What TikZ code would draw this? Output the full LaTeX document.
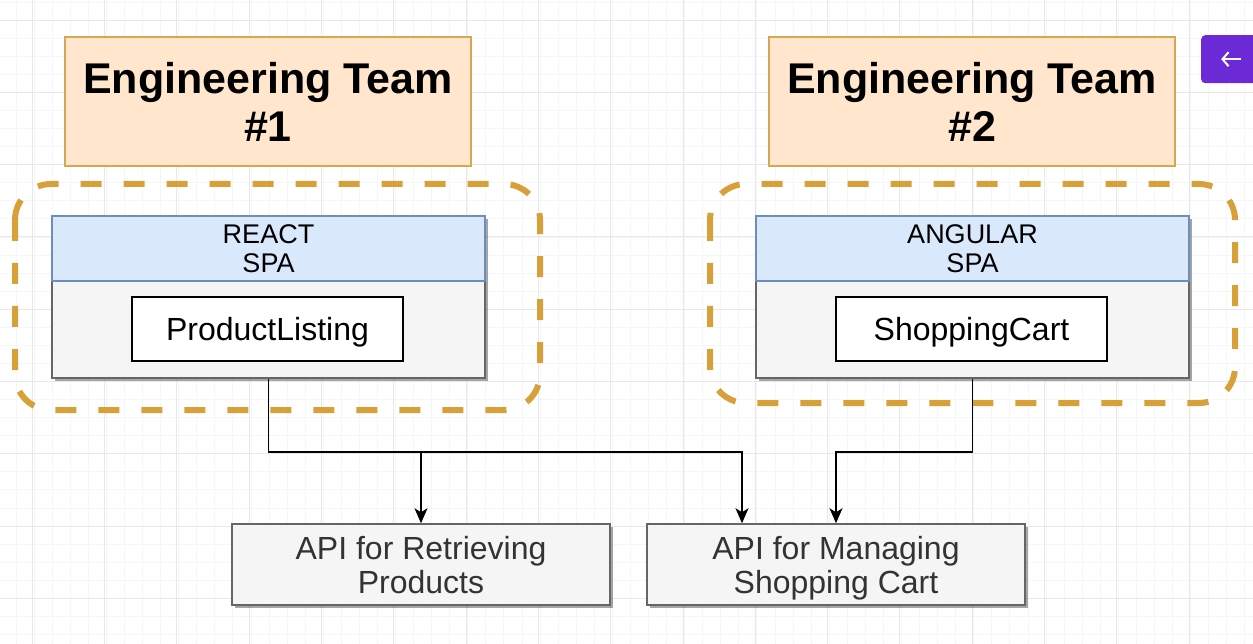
\documentclass[tikz,border=0pt]{standalone}
\usepackage{fontspec}
\setmainfont{Liberation Sans}
\usetikzlibrary{arrows.meta,shadows}
\definecolor{teamfill}{RGB}{255,230,204}
\definecolor{teamline}{RGB}{214,166,80}
\definecolor{dashline}{RGB}{216,160,56}
\definecolor{headfill}{RGB}{218,232,252}
\definecolor{headline}{RGB}{108,142,191}
\definecolor{bodyfill}{RGB}{245,245,245}
\definecolor{bodyline}{RGB}{102,102,102}
\definecolor{gridminor}{RGB}{246,246,246}
\definecolor{gridmajor}{RGB}{232,232,232}
\definecolor{purplebtn}{RGB}{108,42,214}
\tikzset{
  team/.style={draw=teamline,fill=teamfill,line width=1.5pt,minimum width=406pt,
    minimum height=129pt,inner sep=0pt,align=center,text depth=0pt,
    font=\fontsize{43}{48}\selectfont\bfseries},
  group/.style={draw=dashline,line width=6pt,dash pattern=on 21pt off 22pt,rounded corners=36pt},
  shade/.style={drop shadow={shadow xshift=3pt,shadow yshift=-3pt,fill=black,opacity=.35}},
  appbody/.style={draw=bodyline,fill=bodyfill,line width=1.5pt,minimum width=433pt,
    minimum height=162pt,inner sep=0pt,shade},
  apphead/.style={draw=headline,fill=headfill,line width=1.2pt,minimum width=433pt,
    minimum height=65pt,inner sep=0pt,align=center,text depth=0pt,
    font=\fontsize{27}{29}\selectfont},
  comp/.style={draw=black,fill=white,line width=1.5pt,minimum width=271pt,
    minimum height=64pt,inner sep=0pt,text depth=0pt,font=\fontsize{32}{36}\selectfont},
  api/.style={draw=bodyline,fill=bodyfill,line width=1.5pt,minimum width=378pt,
    minimum height=81pt,inner sep=0pt,align=center,text=black!80,text depth=0pt,
    font=\fontsize{32}{34}\selectfont,shade},
  flow/.style={-{Stealth[length=15pt,width=13pt,inset=4pt]},line width=1.5pt}
}
\begin{document}
\begin{tikzpicture}[x=1pt,y=-1pt]
  \useasboundingbox (0,0) rectangle (1253,644);
  \fill[white] (0,0) rectangle (1253,644);
  % grid
  \foreach \i in {0,...,70} {
    \draw[gridminor,line width=.8pt] (16+18.07*\i,0) -- (16+18.07*\i,644);
    \draw[gridminor,line width=.8pt] (0,2+18.07*\i) -- (1253,2+18.07*\i);
  }
  \foreach \i in {-1,...,17} {
    \draw[gridmajor,line width=.8pt] (104.5+72.3*\i,0) -- (104.5+72.3*\i,644);
    \draw[gridmajor,line width=.8pt] (0,20+72.3*\i) -- (1253,20+72.3*\i);
  }
  % teams
  \node[team] (team1) at (268,101.5) {Engineering Team\\\#1};
  \node[team] (team2) at (972,101.5) {Engineering Team\\\#2};
  % dashed groups
  \draw[group] (15,184) rectangle (540,410);
  \draw[group] (710,184) rectangle (1235,403);
  % react app
  \node[appbody] (reactBody) at (268.5,297) {};
  \node[apphead] (reactHead) at (268.5,248.5) {REACT\\SPA};
  \node[comp] (productListing) at (267.5,329) {ProductListing};
  % angular app
  \node[appbody] (angularBody) at (972.5,297) {};
  \node[apphead] (angularHead) at (972.5,248.5) {ANGULAR\\SPA};
  \node[comp] (shoppingCart) at (971.5,329) {ShoppingCart};
  % apis
  \node[api] (apiProducts) at (421,564.5) {API for Retrieving\\Products};
  \node[api] (apiCart) at (836,564.5) {API for Managing\\Shopping Cart};
  % connectors
  \draw[flow] (reactBody.south) -- ++(0,73) coordinate (bus) -| ([xshift=-94pt]apiCart.north);
  \draw[flow] (bus -| apiProducts.north) -- (apiProducts.north);
  \draw[flow] (angularBody.south) -- ++(0,73) -| (apiCart.north);
  % back button
  \node[fill=purplebtn,rounded corners=4pt,minimum width=62pt,minimum height=48pt,
    inner sep=0pt,anchor=north west] (backBtn) at (1201,35) {};
  \draw[white,line width=2pt,-{Straight Barb[length=6pt,width=14pt]}] ([xshift=-2pt]backBtn.center) ++(11,0) -- ++(-20,0);
\end{tikzpicture}
\end{document}
